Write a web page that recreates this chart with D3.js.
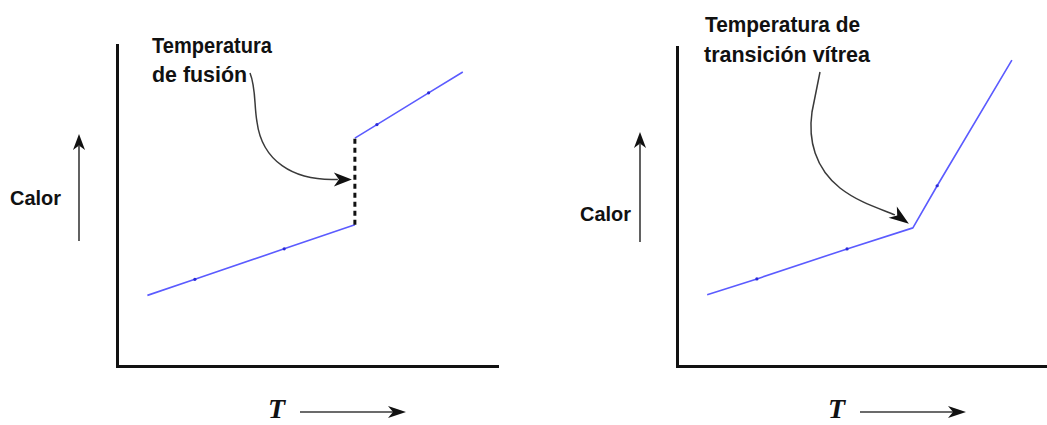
<!DOCTYPE html>
<html>
<head>
<meta charset="utf-8">
<script src="https://cdn.jsdelivr.net/npm/d3@7"></script>
<style>
  html, body { margin: 0; padding: 0; background: #fff; }
  svg { display: block; }
  .lbl { font-family: "Liberation Sans Narrow", "Arial Narrow", "Liberation Sans", sans-serif; font-weight: bold; fill: #111; }
  .tlab { font-family: "Liberation Serif", "Times New Roman", serif; font-style: italic; font-weight: bold; fill: #111; }
</style>
</head>
<body>
<svg id="chart" width="1047" height="425"></svg>
<script>
// ---------- data ----------
const panels = ["fusion", "vitrea"];
const titleFusion = ["Temperatura", "de fusión"];
const titleVitrea = ["Temperatura de", "transición vítrea"];
const yLabel = "Calor";
const xLabel = "T";
// Temperature (0-100) vs heat (0-100)
const fusionSolid  = [[8, 22], [20.5, 27], [44, 36.5], [62.6, 44]];
const fusionLiquid = [[62.6, 71], [68.4, 75.2], [82, 85.1], [91, 91.6]];
const fusionJump   = [[62.6, 44], [62.6, 71]];
const vitreaSeries = [[8.2, 22.3], [21.7, 27.3], [46.2, 36.7], [64.1, 43.3], [70.7, 56.5], [91, 95.9]];
const vitreaKnee   = [64.1, 43.3];

// ---------- drawing ----------
const svg = d3.select("#chart");
const blue = "#5b5bff";
const dotBlue = "#2a2ad8";
const arrowGrey = "#3a3a3a";

function arrowHead(g, x, y, angleDeg, len, halfW) {
  const pts = [[0, 0], [-len, -halfW], [-len * 0.72, 0], [-len, halfW]];
  g.append("path")
    .attr("d", "M" + pts.map(p => p.join(",")).join("L") + "Z")
    .attr("transform", `translate(${x},${y}) rotate(${angleDeg})`)
    .attr("fill", "#111");
}

function makePanel(cfg) {
  const g = svg.append("g");
  const x = d3.scaleLinear().domain([0, 100]).range([cfg.x0, cfg.x1]);
  const y = d3.scaleLinear().domain([0, 100]).range([cfg.y0, cfg.y1]);

  // axes (no ticks)
  const ax = g.append("g").attr("transform", `translate(0,${cfg.y0})`)
    .call(d3.axisBottom(x).ticks(0).tickSizeOuter(0));
  const ay = g.append("g").attr("transform", `translate(${cfg.x0},0)`)
    .call(d3.axisLeft(y).ticks(0).tickSizeOuter(0));
  [ax, ay].forEach(a => a.select(".domain").attr("stroke", "#111").attr("stroke-width", 3).attr("stroke-linecap", "square"));

  // y label + arrow
  g.append("text").attr("class", "lbl").attr("x", cfg.calorX).attr("y", cfg.calorY)
    .attr("font-size", 21).attr("textLength", 51).attr("lengthAdjust", "spacingAndGlyphs").text(yLabel);
  g.append("line").attr("x1", cfg.vArrowX).attr("x2", cfg.vArrowX)
    .attr("y1", cfg.vArrowY0).attr("y2", cfg.vArrowY1 + 12)
    .attr("stroke", arrowGrey).attr("stroke-width", 1.6);
  arrowHead(g, cfg.vArrowX, cfg.vArrowY1, -90, 16, 6);

  // x label + arrow
  g.append("text").attr("class", "tlab").attr("x", cfg.tX).attr("y", 418)
    .attr("font-size", 28).text(xLabel);
  g.append("line").attr("x1", cfg.hArrowX0).attr("x2", cfg.hArrowX1 - 12)
    .attr("y1", 412).attr("y2", 412)
    .attr("stroke", arrowGrey).attr("stroke-width", 1.6);
  arrowHead(g, cfg.hArrowX1, 412, 0, 18, 6);

  return {g, x, y};
}

const line = (x, y) => d3.line().x(d => x(d[0])).y(d => y(d[1]));

// ---------- left panel: melting ----------
{
  const {g, x, y} = makePanel({
    x0: 117, x1: 497, y0: 366, y1: 45,
    calorX: 10, calorY: 205, vArrowX: 79, vArrowY0: 241, vArrowY1: 134,
    tX: 268, hArrowX0: 300, hArrowX1: 406
  });
  [fusionSolid, fusionLiquid].forEach(s => {
    g.append("path").datum(s).attr("d", line(x, y)).attr("fill", "none")
      .attr("stroke", blue).attr("stroke-width", 1.6);
    g.selectAll(null).data(s.slice(1, -1)).join("circle")
      .attr("cx", d => x(d[0])).attr("cy", d => y(d[1])).attr("r", 1.6).attr("fill", dotBlue);
  });
  g.append("path").datum(fusionJump).attr("d", line(x, y)).attr("fill", "none")
    .attr("stroke", "#111").attr("stroke-width", 3).attr("stroke-dasharray", "5,4");

  // label
  const t = g.append("text").attr("class", "lbl").attr("font-size", 22);
  t.append("tspan").attr("x", 152).attr("y", 53).attr("textLength", 120).attr("lengthAdjust", "spacingAndGlyphs").text(titleFusion[0]);
  t.append("tspan").attr("x", 152).attr("y", 82).attr("textLength", 95).attr("lengthAdjust", "spacingAndGlyphs").text(titleFusion[1]);

  // annotation arrow to mid-jump
  const tx = x(fusionJump[0][0]) - 3;
  const ty = y((fusionJump[0][1] + fusionJump[1][1]) / 2) - 2;
  const p = d3.path();
  p.moveTo(250, 73);
  p.bezierCurveTo(256, 88, 254, 105, 257, 122);
  p.bezierCurveTo(262, 160, 292, ty + 2, tx - 14, ty);
  g.append("path").attr("d", p.toString()).attr("fill", "none").attr("stroke", arrowGrey).attr("stroke-width", 1.5);
  arrowHead(g, tx, ty, 0, 18, 7);
}

// ---------- right panel: glass transition ----------
{
  const {g, x, y} = makePanel({
    x0: 677, x1: 1045, y0: 366, y1: 47,
    calorX: 580, calorY: 221, vArrowX: 640, vArrowY0: 242, vArrowY1: 132,
    tX: 828, hArrowX0: 860, hArrowX1: 966
  });
  g.append("path").datum(vitreaSeries).attr("d", line(x, y)).attr("fill", "none")
    .attr("stroke", blue).attr("stroke-width", 1.6).attr("stroke-linejoin", "round");
  g.selectAll(null).data([vitreaSeries[1], vitreaSeries[2], vitreaSeries[4]]).join("circle")
    .attr("cx", d => x(d[0])).attr("cy", d => y(d[1])).attr("r", 1.6).attr("fill", dotBlue);

  const t = g.append("text").attr("class", "lbl").attr("font-size", 22);
  t.append("tspan").attr("x", 705).attr("y", 32).attr("textLength", 155).attr("lengthAdjust", "spacingAndGlyphs").text(titleVitrea[0]);
  t.append("tspan").attr("x", 704).attr("y", 62).attr("textLength", 166).attr("lengthAdjust", "spacingAndGlyphs").text(titleVitrea[1]);

  const tx = x(vitreaKnee[0]) - 4;
  const ty = y(vitreaKnee[1]) - 4;
  const p = d3.path();
  p.moveTo(820, 72);
  p.lineTo(812, 112);
  p.bezierCurveTo(808, 140, 815, 168, 840, 188);
  p.bezierCurveTo(858, 202, 878, 208, tx - 14, ty - 9);
  g.append("path").attr("d", p.toString()).attr("fill", "none").attr("stroke", arrowGrey).attr("stroke-width", 1.5);
  arrowHead(g, tx, ty, 36, 20, 7);
}
</script>
</body>
</html>
